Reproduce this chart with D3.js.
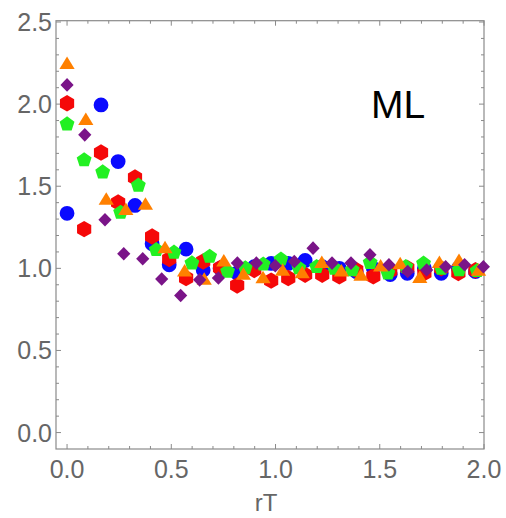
<!DOCTYPE html>
<html>
<head>
<meta charset="utf-8">
<script src="https://cdn.jsdelivr.net/npm/d3@7"></script>
<style>
  html, body { margin: 0; padding: 0; background: #fff; }
  svg { display: block; }
</style>
</head>
<body>
<svg id="chart" width="506" height="518"></svg>
<script>
// ---- data ----
const xTicks = [0.0, 0.5, 1.0, 1.5, 2.0];
const yTicks = [0.0, 0.5, 1.0, 1.5, 2.0, 2.5];
const xTickLabels = ["0.0", "0.5", "1.0", "1.5", "2.0"];
const yTickLabels = ["0.0", "0.5", "1.0", "1.5", "2.0", "2.5"];
const xTitle = "rT";
const panelLabel = "ML";

const blueX = [0.000, 0.163, 0.245, 0.326, 0.408, 0.490, 0.571, 0.653, 0.734, 0.816, 0.898, 0.979,
               1.061, 1.142, 1.224, 1.306, 1.387, 1.469, 1.550, 1.632, 1.714, 1.795, 1.877, 1.959];
const blueY = [1.335, 1.995, 1.650, 1.383, 1.150, 1.022, 1.117, 0.990, 1.000, 0.971, 1.010, 1.030,
               1.030, 1.048, 1.010, 1.000, 0.980, 1.000, 0.962, 0.970, 1.000, 0.970, 1.000, 0.980];

const redX = [0.000, 0.082, 0.163, 0.245, 0.326, 0.408, 0.490, 0.571, 0.653, 0.734, 0.816, 0.898, 0.979,
              1.061, 1.142, 1.224, 1.306, 1.387, 1.469, 1.550, 1.632, 1.714, 1.795, 1.877, 1.959];
const redY = [2.005, 1.239, 1.705, 1.401, 1.553, 1.194, 1.057, 0.941, 1.042, 1.002, 0.896, 0.990, 0.925,
              0.941, 0.961, 0.961, 0.951, 0.990, 0.951, 0.985, 1.002, 0.971, 1.000, 0.972, 0.988];

const greenX = [0.000, 0.082, 0.171, 0.257, 0.342, 0.428, 0.513, 0.599, 0.684, 0.770, 0.855, 0.941,
                1.026, 1.112, 1.197, 1.283, 1.368, 1.454, 1.539, 1.625, 1.710, 1.796, 1.881, 1.967];
const greenY = [1.878, 1.660, 1.586, 1.340, 1.505, 1.113, 1.097, 1.032, 1.072, 0.981, 1.002, 1.025,
                1.055, 1.002, 1.010, 1.000, 0.990, 1.035, 0.970, 1.010, 1.030, 1.000, 0.990, 0.985];

const orangeX = [0.000, 0.090, 0.188, 0.282, 0.376, 0.470, 0.564, 0.658, 0.752, 0.846, 0.940,
                 1.034, 1.128, 1.222, 1.316, 1.410, 1.504, 1.598, 1.692, 1.786, 1.880, 1.974];
const orangeY = [2.245, 1.904, 1.417, 1.356, 1.387, 1.123, 0.981, 0.930, 1.042, 0.961, 0.940,
                 0.985, 0.970, 1.032, 0.981, 0.955, 1.012, 1.025, 0.941, 1.032, 1.045, 0.985];

const purpleX = [0.000, 0.085, 0.182, 0.272, 0.363, 0.454, 0.545, 0.636, 0.726, 0.817, 0.908,
                 0.999, 1.090, 1.180, 1.271, 1.362, 1.453, 1.544, 1.634, 1.725, 1.816, 1.907, 1.997];
const purpleY = [2.117, 1.813, 1.296, 1.089, 1.058, 0.935, 0.835, 0.930, 0.941, 1.032, 1.032,
                 1.016, 1.042, 1.123, 1.032, 1.032, 1.083, 1.022, 0.981, 0.990, 1.010, 1.022, 1.010];

// series in drawing order (later ones paint over earlier ones)
const series = [
  { name: "blue",   xs: blueX,   ys: blueY,   color: "#0a0aff", shape: "circle" },
  { name: "red",    xs: redX,    ys: redY,    color: "#f50808", shape: "hexagon" },
  { name: "green",  xs: greenX,  ys: greenY,  color: "#22f022", shape: "pentagon" },
  { name: "orange", xs: orangeX, ys: orangeY, color: "#ff8000", shape: "triangle" },
  { name: "purple", xs: purpleX, ys: purpleY, color: "#7a1488", shape: "diamond" }
];

// ---- layout ----
const svg = d3.select("#chart");
const frame = { left: 56, right: 484, top: 20.7, bottom: 449 };
const x = d3.scaleLinear().domain([-0.053, 2.0]).range([frame.left, frame.right]);
const y = d3.scaleLinear().domain([-0.1, 2.5]).range([frame.bottom, frame.top + 1.3]);

const axisColor = "#8a8a8a";
const labelColor = "#666666";
const font = "'Liberation Sans', Arial, sans-serif";

// frame
svg.append("rect")
  .attr("x", frame.left).attr("y", frame.top)
  .attr("width", frame.right - frame.left).attr("height", frame.bottom - frame.top)
  .attr("fill", "none").attr("stroke", axisColor).attr("stroke-width", 1.2);

// inward tick marks on all four sides
const xMinor = d3.range(0, 20.5).map(i => i / 10);
const yMinor = d3.range(0, 25.5).map(i => i / 10);
const isMajor = v => Math.abs(v * 2 - Math.round(v * 2)) < 1e-9;
const ticks = svg.append("g").attr("stroke", axisColor).attr("stroke-width", 1);
xMinor.forEach(v => {
  const len = isMajor(v) ? 5 : 3;
  const px = x(v);
  ticks.append("line").attr("x1", px).attr("x2", px).attr("y1", frame.bottom).attr("y2", frame.bottom - len);
  ticks.append("line").attr("x1", px).attr("x2", px).attr("y1", frame.top).attr("y2", frame.top + len);
});
yMinor.forEach(v => {
  const len = isMajor(v) ? 5 : 3;
  const py = y(v);
  ticks.append("line").attr("y1", py).attr("y2", py).attr("x1", frame.left).attr("x2", frame.left + len);
  ticks.append("line").attr("y1", py).attr("y2", py).attr("x1", frame.right).attr("x2", frame.right - len);
});

// tick labels
svg.append("g").selectAll("text").data(xTicks).join("text")
  .attr("x", d => x(d)).attr("y", 478)
  .attr("text-anchor", "middle")
  .attr("font-family", font).attr("font-size", 25).attr("fill", labelColor)
  .text((d, i) => xTickLabels[i]);

svg.append("g").selectAll("text").data(yTicks).join("text")
  .attr("x", 52).attr("y", d => y(d))
  .attr("dy", "0.36em")
  .attr("text-anchor", "end")
  .attr("font-family", font).attr("font-size", 25).attr("fill", labelColor)
  .text((d, i) => yTickLabels[i]);

// axis title
svg.append("text")
  .attr("x", 266).attr("y", 511)
  .attr("text-anchor", "middle")
  .attr("font-family", font).attr("font-size", 24).attr("fill", labelColor)
  .text(xTitle);

// panel label
svg.append("text")
  .attr("x", 371).attr("y", 118)
  .attr("font-family", font).attr("font-size", 39).attr("fill", "#000")
  .text(panelLabel);

// ---- markers ----
function polygonPath(n, r, rot) {
  const pts = d3.range(n).map(k => {
    const a = rot + 2 * Math.PI * k / n;
    return [r * Math.sin(a), -r * Math.cos(a)];
  });
  return "M" + pts.map(p => p[0].toFixed(2) + "," + p[1].toFixed(2)).join("L") + "Z";
}
const shapes = {
  circle:   d3.symbol().type(d3.symbolCircle).size(Math.PI * 7.4 * 7.4)(),
  hexagon:  polygonPath(6, 8.2, 0),
  pentagon: polygonPath(5, 7.8, 0),
  triangle: "M0,-7.5L7.6,5L-7.6,5Z",
  diamond:  "M0,-6.8L6.6,0L0,6.8L-6.6,0Z"
};

const plot = svg.append("g");
series.forEach(s => {
  const pts = s.xs.map((v, i) => ({ x: v, y: s.ys[i] }));
  plot.append("g").attr("class", s.name)
    .selectAll("path").data(pts).join("path")
    .attr("d", shapes[s.shape])
    .attr("transform", d => `translate(${x(d.x)},${y(d.y)})`)
    .attr("fill", s.color);
});
</script>
</body>
</html>
